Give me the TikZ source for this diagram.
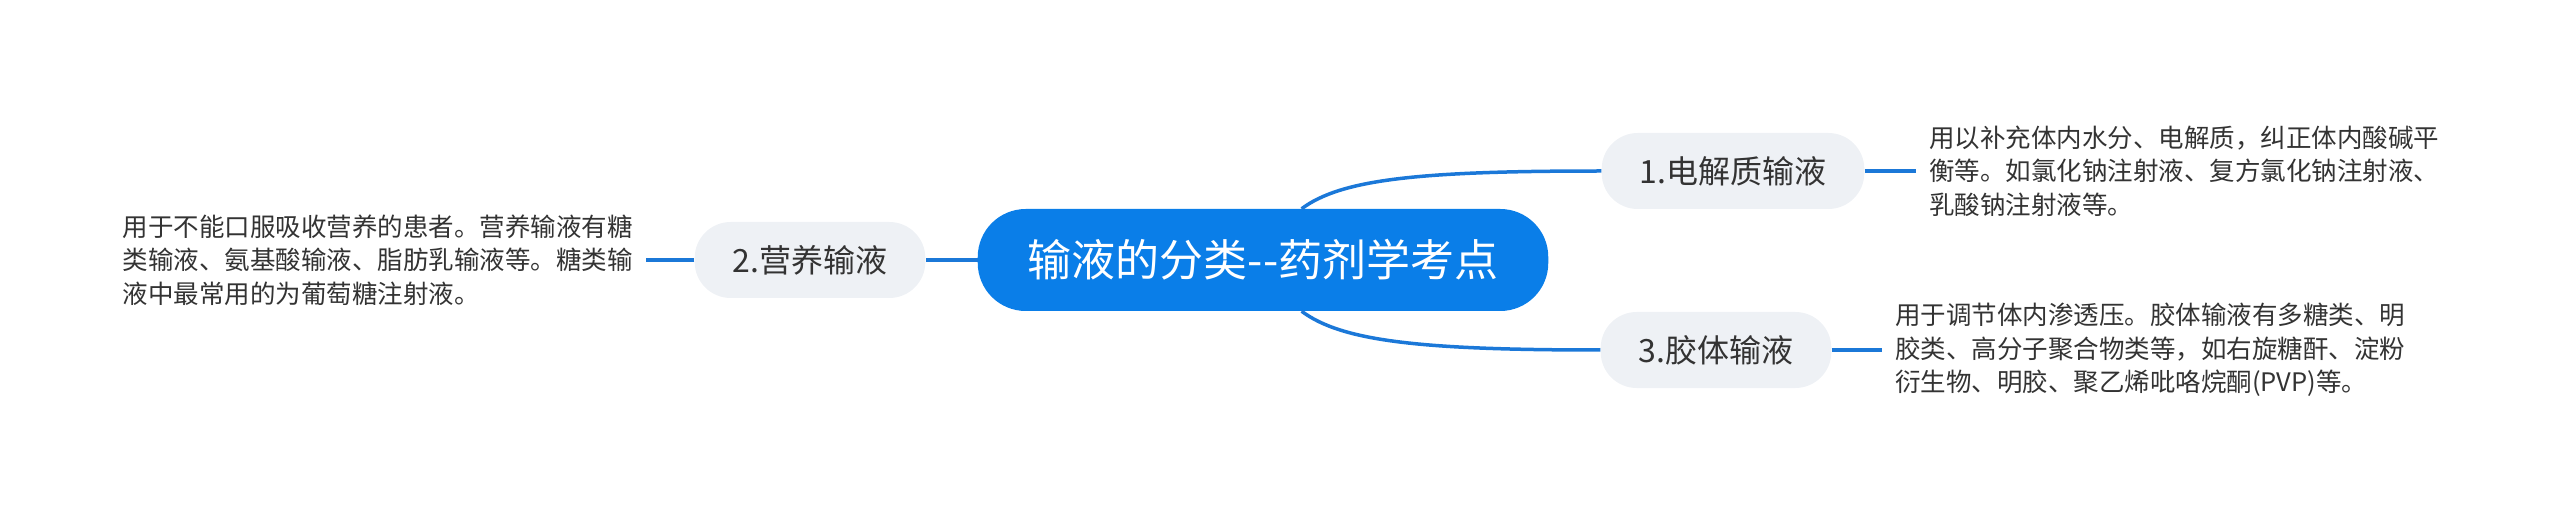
\documentclass[tikz,border=0pt]{standalone}
\usepackage{fontspec}
\setmainfont{Noto Sans CJK SC}
\definecolor{rootblue}{HTML}{0A7EE8}
\definecolor{linkblue}{HTML}{1B78D8}
\definecolor{topicgray}{HTML}{EEF1F5}
\definecolor{inkgray}{HTML}{333333}
\begin{document}
\begin{tikzpicture}[x=1pt, y=-1pt,
		root/.style={fill=rootblue, text=white, rounded corners=48pt, minimum height=102pt, inner xsep=50pt, font=\fontsize{44}{52}\selectfont},
		topic/.style={fill=topicgray, text=inkgray, rounded corners=36pt, minimum height=76pt, inner xsep=38pt, font=\fontsize{32}{38}\selectfont},
		note/.style={text=inkgray, align=left, inner xsep=13pt, inner ysep=0pt, font=\fontsize{25.5}{33.5}\selectfont},
		link/.style={draw=linkblue, line width=3.5pt}]
		\useasboundingbox (0, 0) rectangle (2560, 521);
		\node[root] (fenlei) at (1263, 260) {输液的分类{-}{-}药剂学考点};
		\node[topic] (dianjie) at (1733, 171) {1.电解质输液};
		\node[topic] (yingyang) at (810, 260) {2.营养输液};
		\node[topic] (jiaoti) at (1716, 350) {3.胶体输液};
		\node[note, anchor=west] (dianjie-note) at (1866+50, 171) {用以补充体内水分、电解质，纠正体内酸碱平\\衡等。如氯化钠注射液、复方氯化钠注射液、\\乳酸钠注射液等。};
		\node[note, anchor=east] (yingyang-note) at (646, 260) {用于不能口服吸收营养的患者。营养输液有糖\\类输液、氨基酸输液、脂肪乳输液等。糖类输\\液中最常用的为葡萄糖注射液。};
		\node[note, anchor=west] (jiaoti-note) at (1882, 350) {用于调节体内渗透压。胶体输液有多糖类、明\\胶类、高分子聚合物类等，如右旋糖酐、淀粉\\衍生物、明胶、聚乙烯吡咯烷酮(PVP)等。};
		\draw[link] (fenlei.53) .. controls +(40, -30) and +(-180, 0) .. (dianjie.west);
		\draw[link] (fenlei.-53) .. controls +(40, 30) and +(-180, 0) .. (jiaoti.west);
		\draw[link] (fenlei.west) -- (yingyang.east);
		\draw[link] (dianjie.east) -- (dianjie-note.west);
		\draw[link] (yingyang.west) -- (yingyang-note.east);
		\draw[link] (jiaoti.east) -- (jiaoti-note.west);
	\end{tikzpicture}
\end{document}
